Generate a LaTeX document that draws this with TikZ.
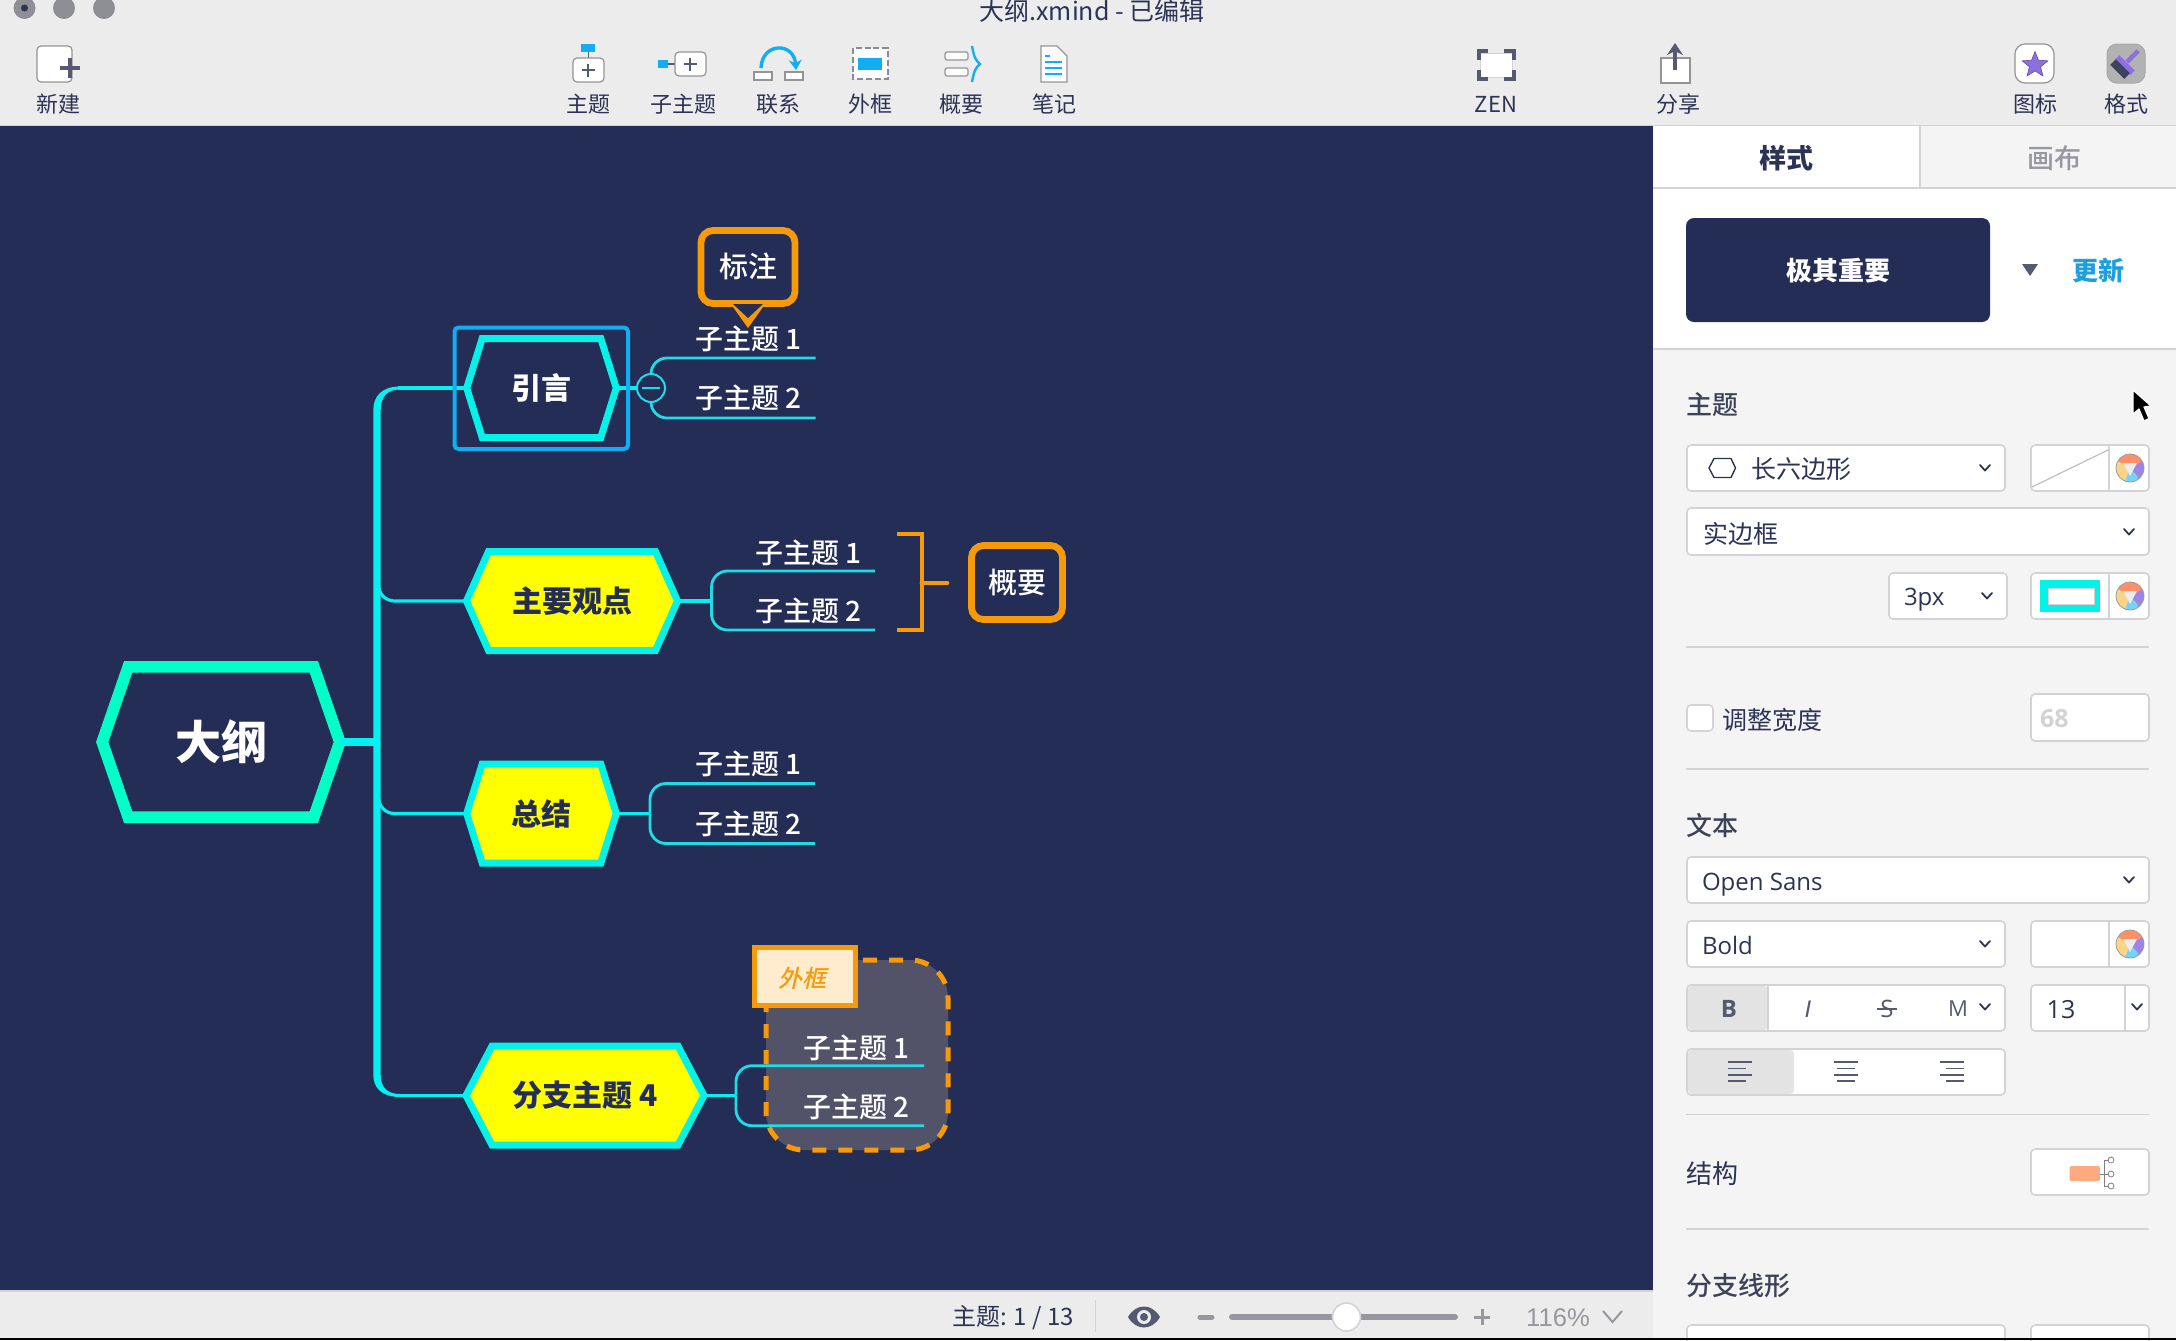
\documentclass[tikz,border=0pt]{standalone}
\usepackage{fontspec}
\usetikzlibrary{shapes.geometric,arrows.meta}
\setmainfont{Noto Sans CJK SC}
\newfontfamily\latinui{Open Sans}
\newfontfamily\thinui{Liberation Sans}
\newfontfamily\cjkmed{Noto Sans CJK SC Medium}
\definecolor{canvas}{HTML}{242D55}
\definecolor{barbg}{HTML}{ECECEC}
\definecolor{panelbg}{HTML}{F4F4F4}
\definecolor{hairline}{HTML}{D3D3D6}
\definecolor{inktext}{HTML}{2C3355}
\definecolor{headtext}{HTML}{3E4258}
\definecolor{cyanline}{HTML}{05F0F0}
\definecolor{subline}{HTML}{1FDDE6}
\definecolor{hexcyan}{HTML}{05F2E8}
\definecolor{rootgreen}{HTML}{03FFC8}
\definecolor{selblue}{HTML}{10AEF5}
\definecolor{amber}{HTML}{F79A0A}
\definecolor{iconblue}{HTML}{12ADF2}
\definecolor{updateblue}{HTML}{1A9FE0}
\definecolor{icondark}{HTML}{555A70}
\definecolor{boundfill}{HTML}{525268}
\definecolor{labelfill}{HTML}{FFECCF}
\definecolor{starpurple}{HTML}{8C6FE0}
\definecolor{greytext}{HTML}{96979F}
\definecolor{hexyellow}{HTML}{FFFF00}
\definecolor{dotgrey}{HTML}{8E8E96}
\tikzset{
  x=0.5pt,y=-0.5pt,
  plain/.style={inner sep=0pt,outer sep=0pt},
  ttext/.style={plain,font=\fontsize{11}{13}\selectfont,text=inktext},
  ptext/.style={plain,anchor=west,font=\fontsize{12.5}{15}\selectfont,text=inktext},
  phead/.style={plain,anchor=west,font=\cjkmed\fontsize{13}{15}\selectfont,text=headtext},
  ltext/.style={plain,anchor=west,font=\latinui\fontsize{12}{15}\selectfont,text=inktext},
  field/.style={draw=hairline,line width=0.8pt,fill=white,rounded corners=2pt},
  divider/.style={draw=hairline,line width=0.6pt},
  chev/.style={draw=inktext,line width=0.9pt,line cap=round,line join=round},
  hexout/.style={draw=hexcyan,line width=3.5pt,fill=canvas,line join=miter},
  hexyel/.style={draw=hexcyan,line width=3.5pt,fill=hexyellow,line join=miter},
  hexroot/.style={draw=rootgreen,line width=5.8pt,fill=canvas,line join=miter},
  hextext/.style={plain,font=\bfseries\fontsize{15}{18}\selectfont},
  subtext/.style={plain,anchor=west,text=white,font=\cjkmed\fontsize{14}{17}\selectfont},
  branchline/.style={draw=subline,line width=1.4pt},
  mainline/.style={draw=cyanline,line width=1.6pt},
  amberbox/.style={draw=amber,line width=3.4pt,fill=canvas,rounded corners=6pt},
  toolbox/.style={draw=hairline!70!black,line width=0.6pt,fill=white,rounded corners=2pt},
}
\newcommand{\hexnode}[8]{%
  \draw[#7] (#2-#4,#3) -- (#2-#4+#6,#3-#5) -- (#2+#4-#6,#3-#5) -- (#2+#4,#3)
     -- (#2+#4-#6,#3+#5) -- (#2-#4+#6,#3+#5) -- cycle;
  \node[hextext,minimum width=#4pt,minimum height=#5pt] (#1) at (#2,#3) {#8};}
\newcommand{\chevron}[3][inktext]{%
  \draw[chev,draw=#1] (#2-5,#3-3) -- (#2,#3+2.5) -- (#2+5,#3-3);}
\newcommand{\wheel}[2]{%
  \begin{scope}[shift={(#1,#2)}]
    \fill[white] (0,0) circle[radius=14];
    \fill[yellow!30!orange!45!white] (0,0) -- (110:14) arc[start angle=110,end angle=210,radius=14] -- cycle;
    \fill[red!45!orange!60!white] (0,0) -- (-150:14) arc[start angle=-150,end angle=-30,radius=14] -- cycle;
    \fill[starpurple!85!white] (0,0) -- (-30:14) arc[start angle=-30,end angle=50,radius=14] -- cycle;
    \fill[cyan!55!white] (0,0) -- (50:14) arc[start angle=50,end angle=110,radius=14] -- cycle;
    \fill[gray!15] (-7,-5) -- (7,-5) -- (0,8) -- cycle;
    \draw[gray!80,line width=0.4pt] (0,0) circle[radius=14];
  \end{scope}}
\newcommand{\plusicon}[3]{%
  \draw[icondark,line width=0.9pt] (#1-#3,#2) -- (#1+#3,#2) (#1,#2-#3) -- (#1,#2+#3);}
\begin{document}
\begin{tikzpicture}
\useasboundingbox (0,0) rectangle (2176,1340);
\clip (0,0) rectangle (2176,1340);
% ---------- window regions
\fill[barbg] (0,0) rectangle (2176,125);
\fill[canvas] (0,126) rectangle (1652.5,1290);
\fill[barbg] (0,1292) rectangle (1652.5,1338);
\fill[hairline] (0,1290) rectangle (1652.5,1292);
\fill[panelbg] (1652.5,126) rectangle (2176,1338);
\fill[white] (1653,126) rectangle (1920,188);
\fill[white] (1653,188) rectangle (2176,349);
\draw[hairline,line width=0.8pt] (0,125.5) -- (2176,125.5);
\draw[hairline,line width=0.6pt] (1920,126) -- (1920,188) (1653,188) -- (2176,188) (1653,349) -- (2176,349);
% ---------- title bar
\fill[dotgrey] (24.5,8) circle[radius=11];
\fill[inktext] (24.5,8) circle[radius=3.5];
\fill[dotgrey] (64,8) circle[radius=11];
\fill[dotgrey] (104,8) circle[radius=11];
\node[plain,font=\fontsize{12.5}{15}\selectfont,text=inktext] (title) at (1092,11) {大纲.xmind - 已编辑};
% ---------- toolbar: new
\draw[toolbox] (37,46) rectangle (72,82);
\draw[icondark,line width=2.2pt] (60,68) -- (80,68);
\draw[icondark,line width=1.9pt] (70,58) -- (70,78);
\node[ttext] (tnew) at (58,104) {新建};
% topic
\fill[iconblue] (581,44) rectangle (595,52);
\draw[icondark,line width=0.5pt] (588,52) -- (588,58);
\draw[toolbox] (573,58) rectangle (604,82);
\plusicon{588}{70}{6.5}
\node[ttext] (ttopic) at (588,104) {主题};
% subtopic
\fill[iconblue] (658,60) rectangle (668,68);
\draw[icondark,line width=0.8pt] (668,64) -- (675,64);
\draw[toolbox] (675,52) rectangle (706,76);
\plusicon{690}{64}{6.5}
\node[ttext] (tsub) at (683,104) {子主题};
% relation
\draw[toolbox,rounded corners=0pt] (754,72) rectangle (772,80);
\draw[toolbox,rounded corners=0pt] (785,72) rectangle (803,80);
\draw[iconblue,line width=1.7pt,-{Stealth[length=5pt,width=6.5pt]}] (761,68) .. controls (762,42) and (794,42) .. (796,70);
\node[ttext] (trel) at (778,104) {联系};
% boundary
\draw[icondark!70,line width=1.1pt,dash pattern=on 3pt off 1.4pt,fill=white] (853,48) rectangle (888,79);
\fill[iconblue] (858,58) rectangle (882,70);
\node[ttext] (tbound) at (870,104) {外框};
% summary
\draw[toolbox,rounded corners=1pt] (945,52) rectangle (968,60);
\draw[toolbox,rounded corners=1pt] (945,68) rectangle (968,76);
\draw[iconblue,line width=1.2pt] (972,46) .. controls (974,56) and (975,60) .. (980,64) .. controls (975,68) and (974,72) .. (972,82);
\node[ttext] (tsum) at (961,104) {概要};
% note
\draw[toolbox,rounded corners=0pt] (1041,46) -- (1057,46) -- (1067,56) -- (1067,82) -- (1041,82) -- cycle;
\draw[iconblue,line width=0.8pt] (1045,56) -- (1050,56) (1045,62) -- (1062,62) (1045,68) -- (1062,68) (1045,74) -- (1062,74);
\node[ttext] (tnote) at (1054,104) {笔记};
% zen
\draw[fill=white,draw=hairline,line width=0.4pt] (1480,53) rectangle (1512,77);
\draw[icondark,line width=2pt] (1478.5,60) -- (1478.5,51) -- (1488,51) (1504,51) -- (1513.5,51) -- (1513.5,60) (1478.5,70) -- (1478.5,79) -- (1488,79) (1504,79) -- (1513.5,79) -- (1513.5,70);
\node[ttext] (tzen) at (1496,104) {ZEN};
% share
\draw[toolbox,rounded corners=0pt] (1661,58) rectangle (1690,83);
\draw[icondark,line width=1.6pt,-{Stealth[length=6pt,width=8pt]}] (1675,70) -- (1675,43);
\node[ttext] (tshare) at (1678,104) {分享};
% icon / format
\draw[toolbox,rounded corners=5pt] (2015,44) rectangle (2054,83);
\node[star,star points=5,star point ratio=2.3,draw=starpurple!70!black,line width=0.3pt,fill=starpurple,minimum size=13.5pt,inner sep=0pt] (stari) at (2035,65) {};
\node[ttext] (ticon) at (2035,104) {图标};
\draw[draw=gray!70,fill=gray!60!white,line width=0.5pt,rounded corners=5pt] (2107,44) rectangle (2145,83);
\draw[starpurple,line width=2.2pt] (2127,62) -- (2138,51);
\fill[starpurple] (2119.4,55.2) -- (2134.8,70.6) -- (2130.6,74.8) -- (2115.2,59.4) -- cycle;
\fill[inktext!80!gray] (2115.8,59.2) -- (2129.8,73.2) -- (2124.2,78.8) -- (2110.2,64.8) -- cycle;
\node[ttext] (tfmt) at (2126,104) {格式};
% ---------- mind map: hex nodes
\hexnode{root}{221}{742}{118.8}{75.2}{26}{hexroot}{\textcolor{white}{\fontsize{23}{27}\selectfont 大纲}}
\hexnode{intro}{541.5}{388}{74.8}{49.5}{15.5}{hexout}{\textcolor{white}{\raisebox{-0.5pt}{引言}}}
\hexnode{main}{572}{601}{105.5}{49.5}{22}{hexyel}{\textcolor{canvas}{\raisebox{-0.5pt}{主要观点}}}
\hexnode{sumup}{541.5}{813.5}{74.8}{49.5}{15.5}{hexyel}{\textcolor{canvas}{总结}}
\hexnode{fourth}{585}{1095.5}{119}{49.5}{26}{hexyel}{\textcolor{canvas}{\raisebox{-0.5pt}{分支主题 4}}}
% trunk
\coordinate (trunkMid) at (377,742);
\draw[draw=cyanline,line width=3.7pt] (root.east) -- (trunkMid);
\fill[cyanline] (373.3,1075) -- (373.3,410)
  .. controls (373.3,396) and (382,386.5) .. (400,386.5) -- (400,389.5)
  .. controls (388,389.5) and (380.7,396) .. (380.7,410) -- (380.7,1075)
  .. controls (380.7,1088) and (388,1094) .. (400,1094) -- (400,1097)
  .. controls (382,1097) and (373.3,1088) .. (373.3,1075) -- cycle;
\draw[mainline] (398,388) -- (intro.west);
\draw[mainline] (398,1095.5) -- (fourth.west);
\draw[mainline,rounded corners=8pt] (378.5,585) |- (main.west);
\draw[mainline,rounded corners=8pt] (378.5,797) |- (sumup.west);
% ---------- intro branch
\node[circle,draw=subline,line width=1pt,fill=canvas,minimum size=14pt,plain] (collapse) at (651,388) {};
\draw[mainline] (intro.east) -- (collapse.west);
\draw[subline,line width=1pt] (642,388) -- (660,388);
\coordinate (ia) at (815.5,358);
\coordinate (ib) at (815.5,418);
\draw[branchline,rounded corners=8pt] (collapse.north) |- (ia);
\draw[branchline,rounded corners=8pt] (collapse.south) |- (ib);
\node[subtext] (ita) at (695,339) {子主题 1};
\node[subtext] (itb) at (695,398) {子主题 2};
\draw[selblue,line width=2pt,rounded corners=2pt] (454.5,327.5) rectangle (628,449);
% callout
\draw[amberbox] (701,230.5) rectangle (795,303.5);
\fill[amber] (728,300) -- (768,300) -- (748,328) -- cycle;
\fill[canvas] (733,304) -- (763,304) -- (748,318) -- cycle;
\node[plain,text=white,font=\cjkmed\fontsize{14.5}{17}\selectfont] (callout) at (748,266) {标注};
% ---------- main branch
\coordinate (mhub) at (711.5,601);
\coordinate (ma) at (875,571);
\coordinate (mb) at (875,630);
\draw[mainline] (main.east) -- (mhub);
\draw[branchline,rounded corners=8pt] (mhub) |- (ma);
\draw[branchline,rounded corners=8pt] (mhub) |- (mb);
\node[subtext] (mta) at (755,553) {子主题 1};
\node[subtext] (mtb) at (755,611) {子主题 2};
% summary bracket
\node[plain,draw=amber,line width=3.4pt,fill=canvas,rounded corners=6pt,minimum width=45.5pt,minimum height=37pt,text=white,font=\cjkmed\fontsize{14.5}{17}\selectfont] (summary) at (1017,582.5) {概要};
\coordinate (brT) at (897,534);
\coordinate (brB) at (897,630);
\coordinate (brE) at (947,583);
\draw[draw=amber,line width=2.4pt,line join=miter] (brT) -- (922,534) -- (922,630) -- (brB);
\draw[draw=amber,line width=2.4pt,line cap=round] (922,583) -- (brE);
% ---------- summing-up branch
\coordinate (shub) at (650,813.5);
\coordinate (sa) at (815,783.5);
\coordinate (sb) at (815,843.5);
\draw[mainline] (sumup.east) -- (shub);
\draw[branchline,rounded corners=8pt] (shub) |- (sa);
\draw[branchline,rounded corners=8pt] (shub) |- (sb);
\node[subtext] (sta) at (695,764) {子主题 1};
\node[subtext] (stb) at (695,824) {子主题 2};
% ---------- fourth branch with boundary
\draw[draw=amber,line width=2.5pt,dash pattern=on 7pt off 6pt,fill=boundfill,rounded corners=19pt] (766,960) rectangle (948,1150);
\coordinate (fhub) at (736,1095.5);
\coordinate (fa) at (924,1065.7);
\coordinate (fb) at (924,1125.7);
\draw[mainline] (fourth.east) -- (fhub);
\draw[branchline,rounded corners=8pt] (fhub) |- (fa);
\draw[branchline,rounded corners=8pt] (fhub) |- (fb);
\node[subtext] (fta) at (803,1047.5) {子主题 1};
\node[subtext] (ftb) at (803,1106.5) {子主题 2};
\node[plain,draw=amber,line width=2.5pt,fill=labelfill,minimum width=50.5pt,minimum height=29pt] (blabel) at (805,976.5) {};
\node[plain,text=amber,xslant=0.22,font=\cjkmed\fontsize{12}{14}\selectfont] (blabeltext) at (805,978) {外框};
% ---------- status bar
\node[plain,font=\fontsize{12}{15}\selectfont,text=inktext] (count) at (1013,1318) {主题: 1 / 13};
\draw[hairline,line width=0.5pt] (1095,1300) -- (1095,1332);
\fill[icondark] (1128,1317) .. controls (1136,1303) and (1152,1303) .. (1160,1317) .. controls (1152,1331) and (1136,1331) .. (1128,1317) -- cycle;
\fill[barbg] (1144,1317) circle[radius=7];
\fill[icondark] (1144,1317) circle[radius=4];
\draw[greytext,line width=2.5pt,line cap=round] (1200,1317) -- (1212,1317);
\draw[greytext,line width=3pt,line cap=round] (1232,1317) -- (1455,1317);
\node[circle,plain,draw=hairline,line width=0.8pt,fill=white,minimum size=14pt] (knob) at (1346.5,1317) {};
\draw[greytext,line width=1.5pt] (1474,1317) -- (1490,1317) (1482,1309) -- (1482,1325);
\node[plain,font=\thinui\fontsize{12.8}{15}\selectfont,text=greytext] (zoomlvl) at (1558,1318) {116\%};
\draw[greytext,line width=1pt] (1603,1311) -- (1612.5,1322) -- (1622,1311);
% ---------- panel: tabs and style
\node[plain,font=\bfseries\fontsize{13.5}{16}\selectfont,text=inktext] (tabstyle) at (1786.5,158) {样式};
\node[plain,font=\cjkmed\fontsize{13.5}{16}\selectfont,text=greytext] (tabcanvas) at (2054,158) {画布};
\fill[canvas,rounded corners=4pt] (1686,218) rectangle (1990,322);
\node[plain,font=\bfseries\fontsize{13}{16}\selectfont,text=white] (stylename) at (1838,271) {极其重要};
\fill[icondark] (2022,264) -- (2038,264) -- (2030,276) -- cycle;
\node[plain,font=\bfseries\fontsize{13}{15}\selectfont,text=updateblue] (update) at (2098.5,271) {更新};
% theme
\node[phead] (hTopic) at (1686.5,404.5) {主题};
\draw[white,fill=black,line width=0.6pt,line join=round] (2133,390) -- (2133,414) -- (2139,409) -- (2144,421) -- (2149,418.5) -- (2144,407) -- (2151,406) -- cycle;
\draw[field] (1687,445) rectangle (2005,491);
\draw[inktext,line width=0.7pt,line join=round] (1709,468) -- (1714,458.5) -- (1731,458.5) -- (1735.5,468) -- (1731,477.5) -- (1714,477.5) -- cycle;
\node[ptext] (shapeSel) at (1751,469.5) {长六边形};
\chevron{1985}{468}
\draw[field] (2031,445) rectangle (2149,491);
\draw[hairline,line width=0.6pt] (2109,445) -- (2109,491);
\draw[hairline!90!black,line width=0.6pt] (2032,487) -- (2108,450);
\wheel{2130}{468}
\draw[field] (1687,508) rectangle (2149,555);
\node[ptext] (borderSel) at (1703,533.5) {实边框};
\chevron{2129}{532}
\draw[field] (1889,573) rectangle (2007,619);
\node[ltext] (widthSel) at (1904,600) {3px};
\chevron{1987}{596}
\draw[field] (2031,573) rectangle (2149,619);
\draw[hairline,line width=0.6pt] (2109,573) -- (2109,619);
\fill[hexcyan] (2040,580) rectangle (2100,612);
\fill[white] (2048,588) rectangle (2094,604);
\draw[hairline,line width=0.4pt] (2048,588) rectangle (2094,604);
\wheel{2130}{596}
\draw[divider] (1686,647) -- (2149,647);
% width
\draw[field] (1687,705) rectangle (1713,731);
\node[ptext] (widthLbl) at (1722,720.5) {调整宽度};
\draw[field] (2031,694) rectangle (2149,741);
\node[ltext,text=hairline,font=\latinui\bfseries\fontsize{12.5}{15}\selectfont] (widthVal) at (2040,718.5) {68};
\draw[divider] (1686,769) -- (2149,769);
% text
\node[phead] (hText) at (1686.5,825.5) {文本};
\draw[field] (1687,857) rectangle (2149,903);
\node[ltext] (fontSel) at (1702,885) {Open Sans};
\chevron{2129}{880}
\draw[field] (1687,921) rectangle (2005,967);
\node[ltext] (weightSel) at (1702,945) {Bold};
\chevron{1985}{944}
\draw[field] (2031,921) rectangle (2149,967);
\draw[hairline,line width=0.6pt] (2109,921) -- (2109,967);
\wheel{2130}{944}
\draw[field] (1687,985) rectangle (2005,1031);
\fill[gray!22,rounded corners=2pt] (1688,986) rectangle (1768,1030);
\draw[hairline,line width=0.6pt] (1768,985) -- (1768,1031);
\node[plain,font=\latinui\bfseries\fontsize{12}{15}\selectfont,text=icondark] (fB) at (1729,1009) {B};
\node[plain,font=\thinui\itshape\fontsize{12}{15}\selectfont,text=icondark] (fI) at (1808,1009) {I};
\node[plain,font=\latinui\fontsize{12}{15}\selectfont,text=icondark] (fS) at (1887,1009) {S};
\draw[icondark,line width=0.6pt] (1877,1009) -- (1897,1009);
\node[plain,font=\latinui\fontsize{11}{15}\selectfont,text=icondark] (fM) at (1958,1009) {M};
\chevron{1985}{1007}
\draw[field] (2031,985) rectangle (2149,1031);
\draw[hairline,line width=0.6pt] (2125,985) -- (2125,1031);
\node[plain,font=\latinui\fontsize{12.5}{15}\selectfont,text=inktext] (fSize) at (2061,1009.5) {13};
\chevron{2137}{1007}
\draw[field] (1687,1049) rectangle (2005,1095);
\fill[gray!22,rounded corners=2pt] (1688,1050) rectangle (1794,1094);
\draw[icondark,line width=0.6pt] (1728,1062) -- (1752,1062) (1728,1068.5) -- (1746,1068.5) (1728,1075) -- (1752,1075) (1728,1081) -- (1746,1081);
\draw[icondark,line width=0.6pt] (1834,1062) -- (1858,1062) (1837,1068.5) -- (1855,1068.5) (1834,1075) -- (1858,1075) (1837,1081) -- (1855,1081);
\draw[icondark,line width=0.6pt] (1940,1062) -- (1964,1062) (1946,1068.5) -- (1964,1068.5) (1940,1075) -- (1964,1075) (1946,1081) -- (1964,1081);
\draw[divider] (1686,1114.5) -- (2149,1114.5);
% structure
\node[ptext,font=\fontsize{13}{15}\selectfont] (hStruct) at (1686.5,1174) {结构};
\draw[field] (2031,1149) rectangle (2149,1195);
\fill[red!35!orange!50!white,rounded corners=1pt] (2069.5,1166) rectangle (2100,1181);
\draw[gray,line width=0.4pt] (2100,1174) -- (2104,1174) (2108,1160) -- (2104,1160) -- (2104,1186) -- (2108,1186) (2104,1174) -- (2108,1174);
\draw[gray,line width=0.4pt] (2111,1160) circle[radius=3] (2111,1174) circle[radius=3] (2111,1186) circle[radius=3];
\draw[divider] (1686,1229) -- (2149,1229);
\node[phead] (hLine) at (1686.5,1285.5) {分支线形};
\draw[field] (1687,1325) rectangle (2005,1360);
\draw[field] (2031,1325) rectangle (2149,1360);
\fill[black] (0,1338) rectangle (2176,1340);
\end{tikzpicture}
\end{document}
